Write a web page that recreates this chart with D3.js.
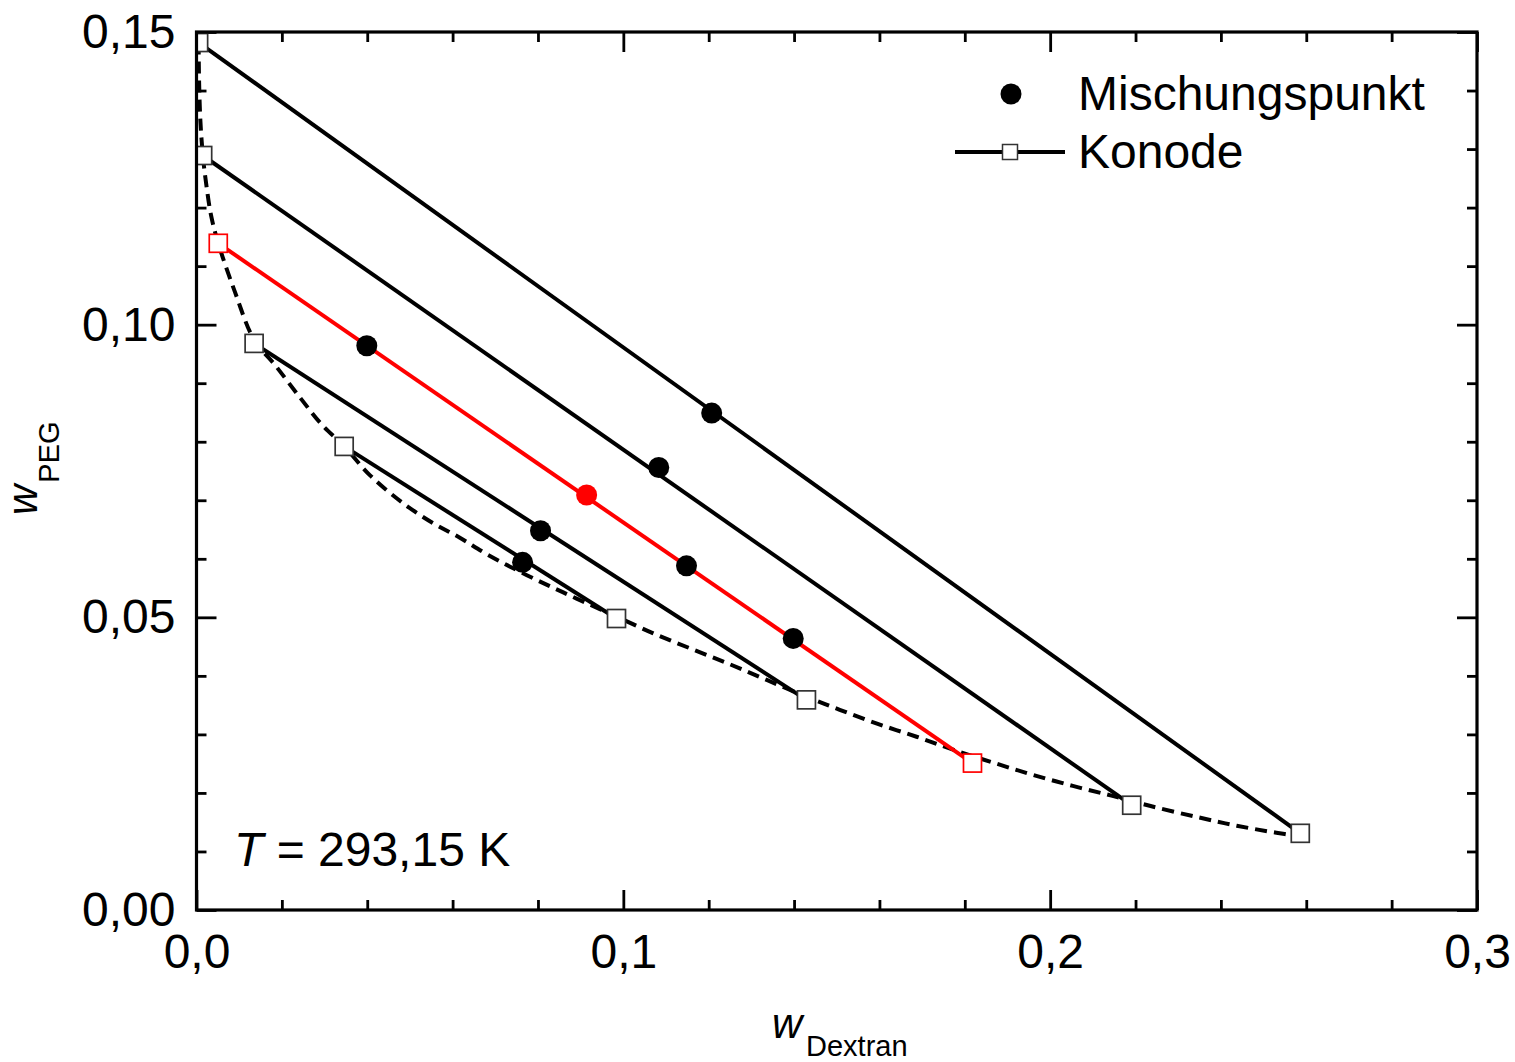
<!DOCTYPE html>
<html>
<head>
<meta charset="utf-8">
<script src="https://cdn.jsdelivr.net/npm/d3@7"></script>
<style>
  html, body { margin: 0; padding: 0; background: #fff; }
  svg { display: block; font-family: "Liberation Sans", Arial, sans-serif; }
</style>
</head>
<body>
<svg id="chart" width="1515" height="1062"></svg>
<script>
// Tie lines (Konoden): [x_left, y_left, x_right, y_right] in mass fractions
const tieLines = [
  [0.0005, 0.1482, 0.2586, 0.0131],
  [0.00145, 0.1289, 0.2191, 0.0179],
  [0.0051, 0.1139, 0.1818, 0.0251],
  [0.0135, 0.0968, 0.1429, 0.0359],
  [0.0346, 0.0792, 0.0984, 0.0498]
];
const tieColors = ["#000", "#000", "#ff0000", "#000", "#000"];

// Mixing points: w_Dextran, w_PEG, colour
const mixX = [0.1207, 0.1083, 0.0399, 0.0914, 0.1148, 0.1398, 0.0806, 0.0764];
const mixY = [0.0849, 0.0756, 0.0964, 0.0709, 0.0588, 0.0464, 0.0648, 0.0594];
const mixColors = ["#000", "#000", "#000", "#ff0000", "#000", "#000", "#000", "#000"];

// Binodal curve (dashed)
const binodalX = [0.0005, 0.0006, 0.0009, 0.0015, 0.0023, 0.0034, 0.0051, 0.0090, 0.0135, 0.0184,
  0.0242, 0.0294, 0.0345, 0.0406, 0.0484, 0.0554, 0.0617, 0.0680, 0.0774, 0.0858, 0.0945, 0.0985,
  0.1069, 0.1160, 0.1249, 0.1336, 0.1430, 0.1507, 0.1596, 0.1687, 0.1776, 0.1870, 0.1959, 0.2053,
  0.2146, 0.2233, 0.2343, 0.2437, 0.2530, 0.2584];
const binodalY = [0.1482, 0.1418, 0.1350, 0.1288, 0.1239, 0.1187, 0.1139, 0.1056, 0.0974, 0.0931,
  0.0876, 0.0829, 0.0793, 0.0743, 0.0695, 0.0661, 0.0636, 0.0608, 0.0572, 0.0543, 0.0514, 0.0501,
  0.0473, 0.0446, 0.0420, 0.0393, 0.0364, 0.0342, 0.0318, 0.0296, 0.0273, 0.0251, 0.0231, 0.0212,
  0.0195, 0.0178, 0.0159, 0.0144, 0.0132, 0.0126];

// Axis ticks
const xMajor = [0, 0.1, 0.2, 0.3];
const xMinor = [0.02, 0.04, 0.06, 0.08, 0.12, 0.14, 0.16, 0.18, 0.22, 0.24, 0.26, 0.28];
const yMajor = [0, 0.05, 0.10, 0.15];
const yMinor = [0.01, 0.02, 0.03, 0.04, 0.06, 0.07, 0.08, 0.09, 0.11, 0.12, 0.13, 0.14];

const legendLabels = ["Mischungspunkt", "Konode"];

const svg = d3.select("#chart");
const L = 196.5, R = 1477, T = 32, B = 910;
const x = d3.scaleLinear().domain([0, 0.3]).range([L, R]);
const y = d3.scaleLinear().domain([0, 0.15]).range([B, T]);
const comma = f => d => d3.format(f)(d).replace(".", ",");
const FS = 48;
const LW = 4;

svg.append("defs").append("clipPath").attr("id", "plotclip")
  .append("rect").attr("x", L).attr("y", T).attr("width", R - L).attr("height", B - T);

// ---- axes ----
function styleAxis(g) {
  g.select(".domain").remove();
  g.selectAll(".tick line").attr("stroke", "#000").attr("stroke-width", 2.8);
  g.selectAll(".tick text").attr("fill", "#000").style("font-size", FS + "px")
    .style("font-family", '"Liberation Sans", Arial, sans-serif');
}
svg.append("g").attr("transform", `translate(0,${B})`)
  .call(d3.axisBottom(x).tickValues(xMajor).tickSize(-20).tickPadding(24).tickFormat(comma(".1f")))
  .call(styleAxis);
svg.append("g").attr("transform", `translate(0,${B})`)
  .call(d3.axisBottom(x).tickValues(xMinor).tickSize(-10).tickFormat(""))
  .call(styleAxis);
svg.append("g").attr("transform", `translate(0,${T})`)
  .call(d3.axisTop(x).tickValues(xMajor).tickSize(-20).tickFormat(""))
  .call(styleAxis);
svg.append("g").attr("transform", `translate(0,${T})`)
  .call(d3.axisTop(x).tickValues(xMinor).tickSize(-10).tickFormat(""))
  .call(styleAxis);
svg.append("g").attr("transform", `translate(${L},0)`)
  .call(d3.axisLeft(y).tickValues(yMajor).tickSize(-20).tickPadding(21).tickFormat(comma(".2f")))
  .call(styleAxis);
svg.append("g").attr("transform", `translate(${L},0)`)
  .call(d3.axisLeft(y).tickValues(yMinor).tickSize(-10).tickFormat(""))
  .call(styleAxis);
svg.append("g").attr("transform", `translate(${R},0)`)
  .call(d3.axisRight(y).tickValues(yMajor).tickSize(-20).tickFormat(""))
  .call(styleAxis);
svg.append("g").attr("transform", `translate(${R},0)`)
  .call(d3.axisRight(y).tickValues(yMinor).tickSize(-10).tickFormat(""))
  .call(styleAxis);

// ---- data layer ----
const plot = svg.append("g").attr("clip-path", "url(#plotclip)");

const binodal = binodalX.map((v, i) => [v, binodalY[i]]);
plot.append("path")
  .datum(binodal)
  .attr("fill", "none")
  .attr("stroke", "#000")
  .attr("stroke-width", LW)
  .attr("stroke-dasharray", "12,7")
  .attr("d", d3.line().x(d => x(d[0])).y(d => y(d[1])).curve(d3.curveCatmullRom.alpha(0.5)));

plot.selectAll("line.tie").data(tieLines).join("line")
  .attr("class", "tie")
  .attr("x1", d => x(d[0])).attr("y1", d => y(d[1]))
  .attr("x2", d => x(d[2])).attr("y2", d => y(d[3]))
  .attr("stroke", (d, i) => tieColors[i])
  .attr("stroke-width", LW);

const SQ = 18;
const ends = [];
tieLines.forEach((t, i) => {
  ends.push({ x: t[0], y: t[1], c: tieColors[i] });
  ends.push({ x: t[2], y: t[3], c: tieColors[i] });
});
plot.selectAll("rect.end").data(ends).join("rect")
  .attr("class", "end")
  .attr("x", d => x(d.x) - SQ / 2).attr("y", d => y(d.y) - SQ / 2)
  .attr("width", SQ).attr("height", SQ)
  .attr("fill", "#fff")
  .attr("stroke", d => d.c === "#000" ? "#333" : d.c)
  .attr("stroke-width", 1.7);

plot.selectAll("circle.mix").data(mixX).join("circle")
  .attr("class", "mix")
  .attr("cx", d => x(d))
  .attr("cy", (d, i) => y(mixY[i]))
  .attr("r", 10.5)
  .attr("fill", (d, i) => mixColors[i]);

// ---- frame ----
svg.append("rect").attr("x", L).attr("y", T).attr("width", R - L).attr("height", B - T)
  .attr("fill", "none").attr("stroke", "#000").attr("stroke-width", 3.2);

// ---- legend ----
const lg = svg.append("g");
lg.append("circle").attr("cx", 1011).attr("cy", 94).attr("r", 10.5).attr("fill", "#000");
lg.append("text").attr("x", 1078).attr("y", 110).style("font-size", FS + "px").text(legendLabels[0]);
lg.append("line").attr("x1", 955).attr("x2", 1065).attr("y1", 152).attr("y2", 152)
  .attr("stroke", "#000").attr("stroke-width", LW);
lg.append("rect").attr("x", 1010 - 7.5).attr("y", 152 - 7.5).attr("width", 15).attr("height", 15)
  .attr("fill", "#fff").attr("stroke", "#333").attr("stroke-width", 1.5);
lg.append("text").attr("x", 1078).attr("y", 168).style("font-size", FS + "px").text(legendLabels[1]);

// ---- temperature annotation ----
const tt = svg.append("text").attr("x", 234).attr("y", 866).style("font-size", FS + "px");
tt.append("tspan").style("font-style", "italic").text("T");
tt.append("tspan").text(" = 293,15 K");

// ---- axis titles ----
const xt = svg.append("text").attr("x", 772).attr("y", 1038).style("font-size", "42px");
xt.append("tspan").style("font-style", "italic").text("w");
xt.append("tspan").attr("x", 806).attr("y", 1056).style("font-size", "29px").text("Dextran");

const yt = svg.append("text").attr("transform", "translate(37,515) rotate(-90)").style("font-size", "42px");
yt.append("tspan").style("font-style", "italic").text("w");
yt.append("tspan").attr("dy", 22).attr("dx", 2).style("font-size", "29px").text("PEG");
</script>
</body>
</html>
